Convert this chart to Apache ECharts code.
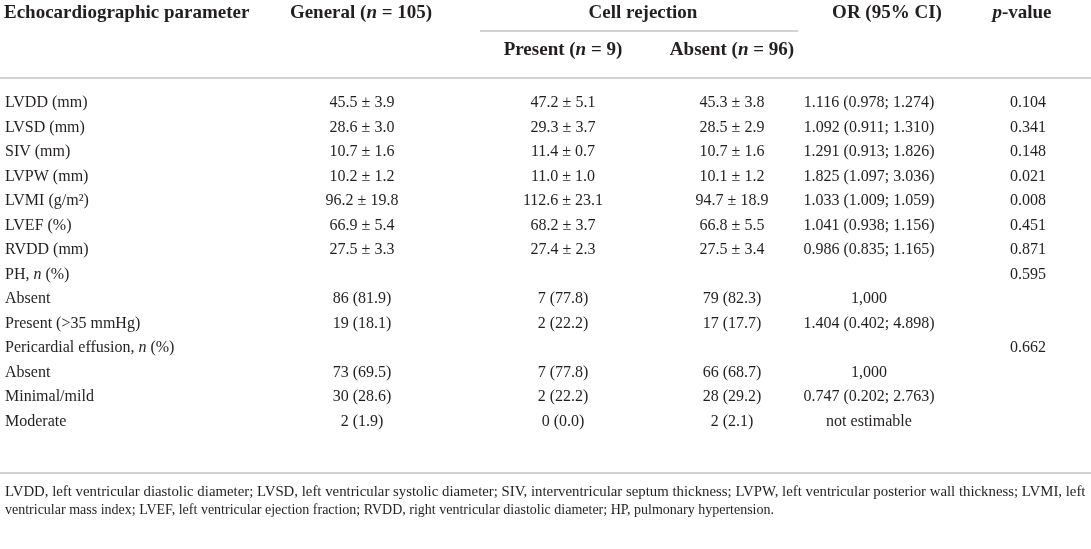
<!DOCTYPE html>
<html>
<head>
<meta charset="utf-8">
<script src="https://cdn.jsdelivr.net/npm/echarts@6/dist/echarts.min.js"></script>
<style>
html, body { margin: 0; padding: 0; background: #fff; }
#main { width: 1091px; height: 549px; }
</style>
</head>
<body>
<div id="main"></div>
<script>
// table content, {i|n} marks an italic n
var rowLabels = ['LVDD (mm)', 'LVSD (mm)', 'SIV (mm)', 'LVPW (mm)', 'LVMI (g/m²)', 'LVEF (%)', 'RVDD (mm)',
    'PH, {i|n} (%)', 'Absent', 'Present (>35 mmHg)', 'Pericardial effusion, {i|n} (%)', 'Absent', 'Minimal/mild', 'Moderate'];
var general = ['45.5 ± 3.9', '28.6 ± 3.0', '10.7 ± 1.6', '10.2 ± 1.2', '96.2 ± 19.8', '66.9 ± 5.4', '27.5 ± 3.3',
    '', '86 (81.9)', '19 (18.1)', '', '73 (69.5)', '30 (28.6)', '2 (1.9)'];
var present = ['47.2 ± 5.1', '29.3 ± 3.7', '11.4 ± 0.7', '11.0 ± 1.0', '112.6 ± 23.1', '68.2 ± 3.7', '27.4 ± 2.3',
    '', '7 (77.8)', '2 (22.2)', '', '7 (77.8)', '2 (22.2)', '0 (0.0)'];
var absent = ['45.3 ± 3.8', '28.5 ± 2.9', '10.7 ± 1.6', '10.1 ± 1.2', '94.7 ± 18.9', '66.8 ± 5.5', '27.5 ± 3.4',
    '', '79 (82.3)', '17 (17.7)', '', '66 (68.7)', '28 (29.2)', '2 (2.1)'];
var orCI = ['1.116 (0.978; 1.274)', '1.092 (0.911; 1.310)', '1.291 (0.913; 1.826)', '1.825 (1.097; 3.036)',
    '1.033 (1.009; 1.059)', '1.041 (0.938; 1.156)', '0.986 (0.835; 1.165)', '', '1,000', '1.404 (0.402; 4.898)',
    '', '1,000', '0.747 (0.202; 2.763)', 'not estimable'];
var pValues = ['0.104', '0.341', '0.148', '0.021', '0.008', '0.451', '0.871', '0.595', '', '', '0.662', '', '', ''];

var headTop = ['Echocardiographic parameter', 'General ({bi|n} = 105)', 'Cell rejection', 'OR (95% CI)', '{bi|p}-value'];
var headSub = ['Present ({bi|n} = 9)', 'Absent ({bi|n} = 96)'];
var footnote = [
    'LVDD, left ventricular diastolic diameter; LVSD, left ventricular systolic diameter; SIV, interventricular septum thickness; LVPW, left ventricular posterior wall thickness; LVMI, left',
    'ventricular mass index; LVEF, left ventricular ejection fraction; RVDD, right ventricular diastolic diameter; HP, pulmonary hypertension.'
];

var columns = [rowLabels, general, present, absent, orCI, pValues];
// layout: anchor x of each column
var colX = [5, 362, 563, 732, 869, 1028];
var colAlign = ['left', 'center', 'center', 'center', 'center', 'center'];

var FONT = '"Liberation Serif", "DejaVu Serif", serif';
var INK = '#231f20';
var RULE = '#d2d2d2';
var BODY = 16;
var HEAD = 19;

var rowData = [];
for (var i = 0; i < rowLabels.length; i++) {
    rowData.push([0, i]);
}

function headText(txt, x, y, align) {
    return {
        type: 'text', x: x, y: y,
        style: {
            text: txt, fill: INK, fontFamily: FONT, fontSize: HEAD, fontWeight: 'bold',
            align: align, verticalAlign: 'middle',
            rich: { bi: { fontFamily: FONT, fontSize: HEAD, fontWeight: 'bold', fontStyle: 'italic', fill: INK } }
        }
    };
}
function rule(x1, x2, y) {
    return { type: 'line', shape: { x1: x1, y1: y, x2: x2, y2: y }, style: { stroke: RULE, lineWidth: 2 } };
}

var myChart = echarts.init(document.getElementById('main'));
var option = {
    backgroundColor: '#fff',
    animation: false,
    grid: { left: 0, right: 0, top: 91, bottom: 115 },
    xAxis: { type: 'value', min: 0, max: 1091, show: false },
    yAxis: {
        type: 'category', inverse: true, show: false,
        data: rowLabels.map(function (d, i) { return i; })
    },
    series: [{
        type: 'custom',
        data: rowData,
        encode: { x: 0, y: 1 },
        renderItem: function (params, api) {
            var r = api.value(1);
            var kids = [];
            for (var c = 0; c < columns.length; c++) {
                var txt = columns[c][r];
                if (!txt) continue;
                var pt = api.coord([colX[c], r]);
                kids.push({
                    type: 'text', x: pt[0], y: pt[1],
                    style: {
                        text: txt, fill: INK, fontFamily: FONT, fontSize: BODY,
                        align: colAlign[c], verticalAlign: 'middle',
                        rich: { i: { fontFamily: FONT, fontSize: BODY, fontStyle: 'italic', fill: INK } }
                    }
                });
            }
            return { type: 'group', children: kids };
        }
    }],
    graphic: [
        headText(headTop[0], 4, 13, 'left'),
        headText(headTop[1], 361, 13, 'center'),
        headText(headTop[2], 643, 13, 'center'),
        headText(headTop[3], 887, 13, 'center'),
        headText(headTop[4], 1022, 13, 'center'),
        headText(headSub[0], 563, 50, 'center'),
        headText(headSub[1], 732, 50, 'center'),
        rule(480, 798, 31),
        rule(0, 1091, 78),
        rule(0, 1091, 473),
        {
            type: 'text', x: 5, y: 492, scaleX: 1.058,
            style: { text: footnote[0], fill: INK, fontFamily: FONT, fontSize: 14, align: 'left', verticalAlign: 'middle' }
        },
        {
            type: 'text', x: 5, y: 510,
            style: { text: footnote[1], fill: INK, fontFamily: FONT, fontSize: 14, align: 'left', verticalAlign: 'middle' }
        }
    ]
};
myChart.setOption(option);
</script>
</body>
</html>
